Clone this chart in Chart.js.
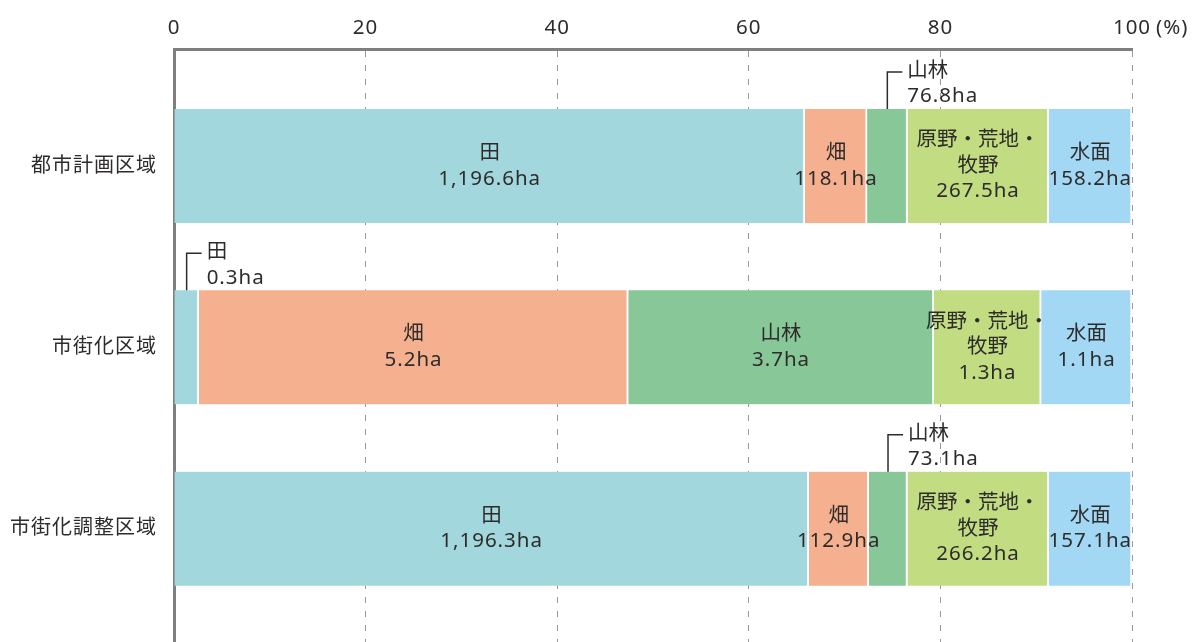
<!DOCTYPE html>
<html lang="ja">
<head>
<meta charset="utf-8">
<script src="https://cdn.jsdelivr.net/npm/chart.js@4/dist/chart.umd.min.js"></script>
<style>
  html, body { margin: 0; padding: 0; background: #fff; }
  #wrap { width: 1194px; height: 642px; }
</style>
</head>
<body>
<div id="wrap"><canvas id="c" width="1194" height="642"></canvas></div>
<script>
// Zones and land-use categories
const categories = ['都市計画区域', '市街化区域', '市街化調整区域'];
const seriesNames = ['田', '畑', '山林', '原野・荒地・牧野', '水面'];
const seriesLabelLines = [['田'], ['畑'], ['山林'], ['原野・荒地・', '牧野'], ['水面']];
const seriesColors = ['#a3d7de', '#f4b08f', '#88c798', '#c2dc82', '#a2d8f4'];

// Area (ha) per land use, in the order of `categories`
const paddyHa     = [1196.6, 0.3, 1196.3];
const fieldHa     = [118.1, 5.2, 112.9];
const forestHa    = [76.8, 3.7, 73.1];
const wastelandHa = [267.5, 1.3, 266.2];
const waterHa     = [158.2, 1.1, 157.1];

const xTickValues = [0, 20, 40, 60, 80, 100];

const seriesHa = [paddyHa, fieldHa, forestHa, wastelandHa, waterHa];
const totals = categories.map((_, i) => seriesHa.reduce((s, arr) => s + arr[i], 0));

const FONT = '"Noto Sans", "Noto Sans CJK JP", sans-serif';
const FONT_SIZE = 20.5;
const TEXT = '#2e2b2b';

const datasets = seriesNames.map((name, d) => ({
  label: name,
  data: categories.map((_, i) => ({ x: seriesHa[d][i] / totals[i] * 100, y: i, ha: seriesHa[d][i] })),
  backgroundColor: seriesColors[d],
  borderColor: '#ffffff',
  borderWidth: { top: 0, right: 2, bottom: 0, left: 0 },
  borderSkipped: false,
  barThickness: 114
}));

const fmtHa = v => v.toLocaleString('en-US', { minimumFractionDigits: 1, maximumFractionDigits: 1 }) + 'ha';

// Numbers are set with a little tracking; kanji are not
function drawText(ctx, text, x, y, tracked) {
  ctx.letterSpacing = tracked ? '1px' : '0px';
  ctx.fillText(text, x, y);
}

// Segment labels: inside wide segments, with a leader line above narrow ones
const segmentLabels = {
  id: 'segmentLabels',
  afterDatasetsDraw(chart) {
    const ctx = chart.ctx;
    ctx.save();
    ctx.font = FONT_SIZE + 'px ' + FONT;
    ctx.fillStyle = TEXT;
    ctx.strokeStyle = TEXT;
    ctx.textBaseline = 'middle';
    const lineH = 25.5;
    chart.data.datasets.forEach((ds, d) => {
      const meta = chart.getDatasetMeta(d);
      meta.data.forEach((bar, i) => {
        const p = bar.getProps(['x', 'base', 'y', 'height'], true);
        const left = Math.min(p.x, p.base), right = Math.max(p.x, p.base);
        const cx = (left + right) / 2;
        const cy = p.y;
        const raw = ds.data[i];
        const names = seriesLabelLines[d];
        if (right - left >= 50) {
          const lines = [...names, fmtHa(raw.ha)];
          ctx.textAlign = 'center';
          const y0 = cy - (lines.length - 1) * lineH / 2;
          lines.forEach((t, k) => drawText(ctx, t, cx, y0 + k * lineH, k === lines.length - 1));
        } else {
          const top = p.y - p.height / 2;
          ctx.lineWidth = 1.5;
          ctx.beginPath();
          ctx.moveTo(cx, top);
          ctx.lineTo(cx, top - 37);
          ctx.lineTo(cx + 15, top - 37);
          ctx.stroke();
          ctx.textAlign = 'left';
          drawText(ctx, names.join(''), cx + 20, top - 38, false);
          drawText(ctx, fmtHa(raw.ha), cx + 20, top - 12.5, true);
        }
      });
    });
    ctx.restore();
  }
};

// Tracking for the top-axis numbers; the unit marker after the last value
const axisText = {
  id: 'axisText',
  beforeDraw(chart) { chart.ctx.letterSpacing = '1px'; },
  beforeDatasetsDraw(chart) { chart.ctx.letterSpacing = '0px'; },
  afterDraw(chart) {
    const xs = chart.scales.x;
    const ctx = chart.ctx;
    ctx.save();
    ctx.font = FONT_SIZE + 'px ' + FONT;
    ctx.fillStyle = TEXT;
    ctx.textBaseline = 'middle';
    ctx.textAlign = 'left';
    ctx.letterSpacing = '1px';
    const last = xTickValues[xTickValues.length - 1];
    const px = xs.getPixelForValue(last);
    const w = ctx.measureText(String(last)).width;
    ctx.fillText('(%)', px + w / 2 + 5, xs.bottom - xs.options.ticks.padding - FONT_SIZE * 0.6);
    ctx.restore();
  }
};

new Chart(document.getElementById('c'), {
  type: 'bar',
  data: { datasets },
  plugins: [segmentLabels, axisText],
  options: {
    indexAxis: 'y',
    responsive: false,
    animation: false,
    layout: { padding: { top: 0, right: 62, bottom: 0, left: 0 } },
    plugins: { legend: { display: false }, tooltip: { enabled: false } },
    scales: {
      x: {
        type: 'linear',
        position: 'top',
        stacked: true,
        min: 0,
        max: 100,
        afterBuildTicks: s => { s.ticks = xTickValues.map(v => ({ value: v })); },
        afterFit: s => { s.height = 49; s.paddingLeft = 0; s.paddingRight = 0; },
        grid: { color: '#9a9a9a', lineWidth: 1, drawTicks: false },
        border: { display: true, color: '#7f7f7f', width: 3, dash: [6, 8] },
        ticks: { font: { family: FONT, size: FONT_SIZE }, color: TEXT, padding: 9, maxRotation: 0 }
      },
      y: {
        type: 'linear',
        reverse: true,
        stacked: true,
        offset: false,
        min: -0.645,
        max: 2.625,
        z: 1,
        afterBuildTicks: s => { s.ticks = categories.map((_, i) => ({ value: i })); },
        afterFit: s => { s.width = 174; s.paddingTop = 0; s.paddingBottom = 0; },
        grid: { display: false, drawTicks: false, offset: false },
        border: { display: true, color: '#7f7f7f', width: 3 },
        ticks: {
          font: { family: FONT, size: 20 },
          color: TEXT,
          padding: 17,
          callback: v => categories[v] ?? ''
        }
      }
    }
  }
});
</script>
</body>
</html>
